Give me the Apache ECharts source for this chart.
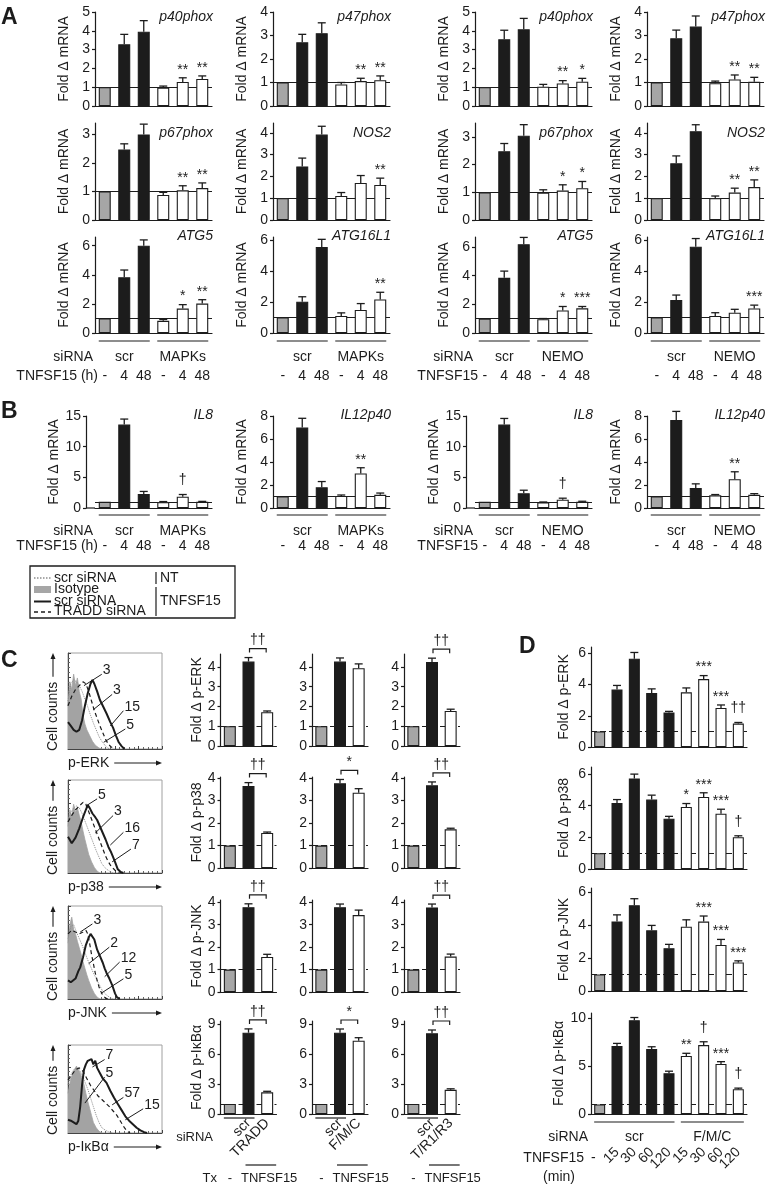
<!DOCTYPE html>
<html><head><meta charset="utf-8">
<script src="https://cdn.jsdelivr.net/npm/echarts/dist/echarts.min.js"></script>
<style>html,body{margin:0;padding:0;background:#fff}#c{width:770px;height:1189px}</style>
</head><body><div id="c"></div>
<script>
// ================= DATA =================
// Panel A / B categories (TNFSF15 hours) and siRNA groups
const abCats = ['-', '4', '48', '-', '4', '48'];
const groupsMAPK = ['scr', 'MAPKs'];
const groupsNEMO = ['scr', 'NEMO'];

// tick label sets
const ticks0to5 = [0, 1, 2, 3, 4, 5];
const ticks0to4 = [0, 1, 2, 3, 4];
const ticks0to3 = [0, 1, 2, 3];
const ticks0to6by2 = [0, 2, 4, 6];
const ticks0to15by5 = [0, 5, 10, 15];
const ticks0to8by2 = [0, 2, 4, 6, 8];
const ticks0to9by3 = [0, 3, 6, 9];
const ticks0to10by5 = [0, 5, 10];

// Panel A, MAPKs siRNA
const p40phoxMAPK = [1, 3.28, 3.95, 0.97, 1.28, 1.44];
const p40phoxMAPKErr = [0, 0.53, 0.59, 0.09, 0.22, 0.16];
const p40phoxMAPKSig = ['', '', '', '', '**', '**'];
const p47phoxMAPK = [1, 2.71, 3.10, 0.92, 1.06, 1.10];
const p47phoxMAPKErr = [0, 0.34, 0.44, 0.08, 0.12, 0.18];
const p47phoxMAPKSig = ['', '', '', '', '**', '**'];
const p67phoxMAPK = [1, 2.47, 3.00, 0.88, 1.04, 1.12];
const p67phoxMAPKErr = [0, 0.20, 0.36, 0.09, 0.16, 0.18];
const p67phoxMAPKSig = ['', '', '', '', '**', '**'];
const nos2MAPK = [1, 2.46, 3.92, 1.10, 1.70, 1.61];
const nos2MAPKErr = [0, 0.38, 0.38, 0.16, 0.34, 0.31];
const nos2MAPKSig = ['', '', '', '', '', '**'];
const atg5MAPK = [1, 3.83, 6.00, 0.84, 1.68, 2.02];
const atg5MAPKErr = [0, 0.50, 0.40, 0.09, 0.27, 0.27];
const atg5MAPKSig = ['', '', '', '', '*', '**'];
const atg16l1MAPK = [1, 2.02, 5.56, 1.10, 1.49, 2.17];
const atg16l1MAPKErr = [0, 0.32, 0.49, 0.20, 0.41, 0.46];
const atg16l1MAPKSig = ['', '', '', '', '', '**'];
// Panel A, NEMO siRNA
const p40phoxNEMO = [1, 3.55, 4.08, 1.03, 1.20, 1.29];
const p40phoxNEMOErr = [0, 0.48, 0.58, 0.12, 0.15, 0.18];
const p40phoxNEMOSig = ['', '', '', '', '**', '*'];
const p47phoxNEMO = [1, 2.88, 3.38, 0.97, 1.13, 1.03];
const p47phoxNEMOErr = [0, 0.35, 0.45, 0.09, 0.19, 0.19];
const p47phoxNEMOSig = ['', '', '', '', '**', '**'];
const p67phoxNEMO = [1, 2.48, 3.04, 0.99, 1.06, 1.15];
const p67phoxNEMOErr = [0, 0.28, 0.40, 0.10, 0.21, 0.24];
const p67phoxNEMOSig = ['', '', '', '', '*', '*'];
const nos2NEMO = [1, 2.60, 4.07, 1.00, 1.26, 1.51];
const nos2NEMOErr = [0, 0.34, 0.30, 0.10, 0.20, 0.33];
const nos2NEMOSig = ['', '', '', '', '**', '**'];
const atg5NEMO = [1, 3.85, 6.20, 0.96, 1.57, 1.72];
const atg5NEMOErr = [0, 0.47, 0.47, 0.05, 0.28, 0.13];
const atg5NEMOSig = ['', '', '', '', '*', '***'];
const atg16l1NEMO = [1, 2.13, 5.57, 1.10, 1.31, 1.59];
const atg16l1NEMOErr = [0, 0.32, 0.53, 0.21, 0.22, 0.21];
const atg16l1NEMOSig = ['', '', '', '', '', '***'];

// Panel B
const il8MAPK = [1, 13.6, 2.3, 0.95, 1.85, 1.0];
const il8MAPKErr = [0, 0.9, 0.4, 0.1, 0.35, 0.08];
const il8MAPKSig = ['', '', '', '', '†', ''];
const il12p40MAPK = [1, 7.0, 1.8, 1.05, 3.0, 1.15];
const il12p40MAPKErr = [0, 0.8, 0.5, 0.08, 0.5, 0.15];
const il12p40MAPKSig = ['', '', '', '', '**', ''];
const il8NEMO = [1, 13.6, 2.4, 0.9, 1.35, 1.0];
const il8NEMOErr = [0, 1.0, 0.5, 0.08, 0.25, 0.1];
const il8NEMOSig = ['', '', '', '', '†', ''];
const il12p40NEMO = [1, 7.65, 1.75, 1.1, 2.5, 1.15];
const il12p40NEMOErr = [0, 0.75, 0.35, 0.07, 0.65, 0.1];
const il12p40NEMOSig = ['', '', '', '', '**', ''];

// Panel C bar charts (categories: isotype, scr, knockdown)
const cCatsTRADD = ['', 'scr', 'TRADD'];
const cCatsFMC = ['', 'scr', 'F/M/C'];
const cCatsTR = ['', 'scr', 'T/R1/R3'];
const cErkTRADD = [1, 4.27, 1.71], cErkTRADDErr = [0, 0.20, 0.06];
const cErkFMC = [1, 4.27, 3.93], cErkFMCErr = [0, 0.18, 0.22];
const cErkTR = [1, 4.24, 1.77], cErkTRErr = [0, 0.20, 0.09];
const cErkSig = ['††', '', '††'];
const cP38TRADD = [1, 3.65, 1.56], cP38TRADDErr = [0, 0.15, 0.04];
const cP38FMC = [1, 3.77, 3.35], cP38FMCErr = [0, 0.17, 0.18];
const cP38TR = [1, 3.68, 1.72], cP38TRErr = [0, 0.15, 0.05];
const cP38Sig = ['††', '*', '††'];
const cJnkTRADD = [1, 3.78, 1.56], cJnkTRADDErr = [0, 0.15, 0.12];
const cJnkFMC = [1, 3.78, 3.43], cJnkFMCErr = [0, 0.14, 0.22];
const cJnkTR = [1, 3.77, 1.58], cJnkTRErr = [0, 0.15, 0.11];
const cJnkSig = ['††', '', '††'];
const cIkbTRADD = [1, 8.13, 2.17], cIkbTRADDErr = [0, 0.38, 0.10];
const cIkbFMC = [1, 8.13, 7.33], cIkbFMCErr = [0, 0.37, 0.30];
const cIkbTR = [1, 8.07, 2.42], cIkbTRErr = [0, 0.33, 0.10];
const cIkbSig = ['††', '*', '††'];

// Panel C histograms: [x %, y %] of frame (hand-read)
const hErkIso = [[0,45],[2,70],[4,62],[6,78],[8,66],[10,74],[12,60],[14,52],[16,35],[18,26],[20,20],[23,14],[26,8],[29,4],[33,1],[36,0]];
const hErkNT = [[0,50],[3,68],[6,72],[9,70],[12,66],[15,60],[18,52],[21,44],[24,35],[27,27],[30,20],[33,13],[36,8],[40,3],[44,0]];
const hErkTRADD = [[0,45],[4,55],[8,62],[12,66],[16,70],[19,68],[22,60],[25,50],[28,40],[31,32],[34,24],[37,17],[40,10],[43,5],[46,2],[50,0]];
const hErkScr = [[0,28],[3,24],[6,20],[9,18],[12,20],[15,30],[18,45],[21,58],[24,68],[26,72],[28,68],[31,60],[34,51],[37,45],[41,37],[45,28],[48,22],[51,14],[54,7],[57,3],[60,0]];
const hErkNotes = [['3',37,82,17,66],['3',48,61,27,41],['15',60,44,45,24],['5',62,25,38,7]];
const hP38Iso = [[0,50],[2,68],[4,60],[6,74],[8,65],[10,70],[12,62],[14,55],[16,45],[18,36],[20,28],[22,20],[25,12],[28,6],[31,2],[34,0]];
const hP38NT = [[0,55],[3,65],[6,70],[9,72],[12,70],[15,64],[18,56],[21,48],[24,40],[27,32],[30,24],[33,17],[36,10],[40,5],[44,2],[48,0]];
const hP38TRADD = [[0,55],[4,62],[8,68],[12,72],[16,76],[19,74],[22,66],[25,58],[28,50],[31,42],[34,34],[37,26],[40,18],[43,12],[46,7],[50,3],[54,0]];
const hP38Scr = [[0,39],[4,32],[8,38],[12,48],[16,60],[19,68],[21,73],[23,70],[26,64],[29,60],[31,57],[34,50],[37,43],[40,36],[43,28],[46,22],[48,17],[50,12],[53,4],[56,1],[59,0]];
const hP38Notes = [['5',32,84,19,72],['3',49,66,29,43],['16',60,48,45,30],['7',68,30,47,12]];
const hJnkIso = [[0,60],[2,80],[4,88],[6,75],[8,70],[10,62],[12,55],[14,48],[16,40],[18,33],[20,26],[22,20],[25,12],[28,6],[31,2],[34,0]];
const hJnkNT = [[0,65],[3,78],[6,80],[9,72],[12,65],[15,58],[18,50],[21,42],[24,35],[27,28],[30,22],[33,16],[36,10],[40,5],[44,2],[48,0]];
const hJnkTRADD = [[0,70],[4,74],[8,72],[12,70],[16,72],[19,74],[21,70],[23,60],[25,48],[27,38],[29,28],[31,20],[33,13],[35,8],[37,4],[40,1],[43,0]];
const hJnkScr = [[0,20],[3,18],[5,16],[8,22],[11,30],[13,34],[16,45],[19,58],[22,66],[24,70],[26,71],[28,64],[31,53],[34,46],[37,39],[39,33],[41,28],[44,22],[47,15],[50,6],[52,2],[55,0]];
const hJnkNotes = [['3',27,85,13,72],['2',45,60,22,38],['12',56,44,39,24],['5',60,26,35,6]];
const hIkbIso = [[0,45],[3,62],[6,70],[9,76],[11,72],[13,68],[15,62],[17,55],[19,45],[21,36],[23,28],[25,20],[27,12],[30,6],[33,2],[36,0]];
const hIkbNT = [[0,55],[3,66],[6,72],[9,74],[12,72],[15,66],[18,58],[21,50],[24,40],[27,30],[30,20],[33,12],[36,6],[40,3],[44,1],[48,0]];
const hIkbTRADD = [[0,60],[4,66],[8,72],[12,74],[16,70],[20,62],[24,54],[28,48],[32,42],[36,38],[40,34],[44,30],[48,25],[52,20],[56,13],[60,6],[63,2],[66,0]];
const hIkbScr = [[0,15],[3,14],[6,12],[9,10],[11,14],[13,30],[15,55],[17,72],[19,78],[21,82],[23,80],[25,84],[27,78],[29,82],[31,74],[34,68],[37,62],[41,57],[45,48],[49,40],[53,33],[57,26],[61,19],[65,14],[69,10],[73,6],[77,3],[81,1],[84,0]];
const hIkbNotes = [['7',40,88,26,75],['5',40,68,18,34],['57',60,45,47,32],['15',81,32,61,15]];

// Panel D (TNFSF15 minutes)
const dCats = ['-', '15', '30', '60', '120', '15', '30', '60', '120'];
const dGroups = ['scr', 'F/M/C'];
const dErk = [1, 3.68, 5.65, 3.46, 2.21, 3.50, 4.35, 2.50, 1.50];
const dErkErr = [0, 0.26, 0.40, 0.26, 0.07, 0.28, 0.22, 0.19, 0.07];
const dErkSig = ['', '', '', '', '', '', '***', '***', '††'];
const dP38 = [1, 4.18, 5.73, 4.39, 3.18, 3.92, 4.56, 3.50, 2.01];
const dP38Err = [0, 0.21, 0.27, 0.28, 0.15, 0.22, 0.26, 0.28, 0.09];
const dP38Sig = ['', '', '', '', '', '*', '***', '***', '†'];
const dJnk = [1, 4.22, 5.20, 3.68, 2.60, 3.90, 4.21, 2.79, 1.73];
const dJnkErr = [0, 0.40, 0.40, 0.30, 0.23, 0.42, 0.34, 0.34, 0.10];
const dJnkSig = ['', '', '', '', '', '', '***', '***', '***'];
const dIkb = [1, 7.06, 9.75, 6.75, 4.24, 6.03, 7.17, 5.20, 2.58];
const dIkbErr = [0, 0.28, 0.28, 0.24, 0.21, 0.28, 0.34, 0.24, 0.11];
const dIkbSig = ['', '', '', '', '', '**', '†', '***', '†'];

// ================= BUILD =================
const INK = '#1c1c1c', GRAY = '#a6a6a6', WHITE = '#ffffff';
const FONT = "'Liberation Sans', Arial, Helvetica, sans-serif";
const grids = [], xAxes = [], yAxes = [], series = [], graphics = [];
const mctx = document.createElement('canvas').getContext('2d');
function tw(s, size) { mctx.font = size + 'px ' + FONT; return mctx.measureText(s).width; }

function txt(x, y, s, o) {
  o = o || {};
  const font = (o.italic ? 'italic ' : '') + (o.bold ? 'bold ' : '') + (o.size || 14) + 'px ' + FONT;
  graphics.push({type: 'text', x: x, y: y, rotation: o.rot || 0, silent: true, z: 20,
    style: {text: s, font: font, fill: INK, align: o.align || 'left', verticalAlign: o.va || 'middle',
            textAlign: o.align || 'left', textVerticalAlign: o.va || 'middle'}});
}
function seg(x1, y1, x2, y2, w, dash, color) {
  graphics.push({type: 'line', silent: true, z: 20, shape: {x1: x1, y1: y1, x2: x2, y2: y2},
    style: {stroke: color || INK, lineWidth: w || 1.2, lineDash: dash || null}});
}
function poly(points, fill) {
  graphics.push({type: 'polygon', silent: true, z: 20, shape: {points: points}, style: {fill: fill || INK}});
}

function catCenter(o, i) { return o.left + o.width / o.cats.length * (i + 0.5); }

function addBarChart(o) {
  const gi = grids.length;
  grids.push({left: o.left, top: o.top, width: o.width, height: o.height});
  xAxes.push({gridIndex: gi, type: 'category', data: o.cats, position: 'bottom',
    axisLine: {show: true, onZero: false, lineStyle: {color: INK, width: 1.2}},
    axisTick: {show: false}, splitLine: {show: false},
    axisLabel: {show: !!o.xLabels, interval: 0, rotate: o.xRotate || 0, margin: o.xMargin || 8,
      fontSize: 14, color: INK, fontFamily: FONT,
      formatter: o.xFormatter || function (v) { return v; }}});
  yAxes.push({gridIndex: gi, type: 'value', min: 0, max: o.max, offset: o.yOffset || 0,
    axisLine: {show: true, onZero: false, lineStyle: {color: INK, width: 1.2}},
    axisTick: {show: true, length: 3, customValues: o.ticks, lineStyle: {color: INK, width: 1.2}},
    axisLabel: {show: true, customValues: o.ticks, margin: 5, fontSize: 14, color: INK, fontFamily: FONT},
    splitLine: {show: false},
    name: o.yName || '', nameLocation: 'middle', nameGap: o.nameGap || 20,
    nameTextStyle: {fontSize: 14, color: INK, fontFamily: FONT}});
  series.push({type: 'bar', xAxisIndex: gi, yAxisIndex: gi, barWidth: o.barWidth, silent: true, z: 3,
    data: o.vals.map(function (v, i) { return {value: v, itemStyle: {color: o.colors[i]}}; }),
    itemStyle: {borderColor: INK, borderWidth: 1.1},
    markLine: {silent: true, symbol: ['none', 'none'], z: 1, label: {show: false},
      lineStyle: {color: INK, width: 1, type: o.refType || 'solid'}, data: [{yAxis: 1}]}});
  series.push({type: 'custom', xAxisIndex: gi, yAxisIndex: gi, z: 4, silent: true,
    data: o.vals.map(function (v, i) { return [i, v, v + o.errs[i]]; }),
    renderItem: function (params, api) {
      const i = params.dataIndex, v = o.vals[i], e = o.errs[i];
      const p0 = api.coord([i, v]), p1 = api.coord([i, v + e]);
      const ch = [];
      if (e > 0) {
        ch.push({type: 'line', shape: {x1: p0[0], y1: p0[1], x2: p1[0], y2: p1[1]}, style: {stroke: INK, lineWidth: 1.3}});
        ch.push({type: 'line', shape: {x1: p1[0] - 4, y1: p1[1], x2: p1[0] + 4, y2: p1[1]}, style: {stroke: INK, lineWidth: 1.3}});
      }
      const s = o.sigs ? o.sigs[i] : '';
      if (s) {
        const dy = s.indexOf('†') >= 0 ? 7 : 1;
        ch.push({type: 'text', style: {text: s, x: p1[0], y: p1[1] - dy, font: '14px ' + FONT, fill: INK,
          align: 'center', verticalAlign: 'bottom', textAlign: 'center', textVerticalAlign: 'bottom'}});
      }
      return {type: 'group', children: ch};
    }});
  if (o.bracket) {
    series.push({type: 'custom', xAxisIndex: gi, yAxisIndex: gi, z: 4, silent: true,
      data: [[1, o.vals[1] + o.errs[1]]],
      renderItem: function (params, api) {
        const a = api.coord([1, o.vals[1] + o.errs[1]]), b = api.coord([2, o.vals[1] + o.errs[1]]);
        const y = a[1] - 9;
        return {type: 'group', children: [
          {type: 'polyline', shape: {points: [[a[0] + 1, y + 4], [a[0] + 1, y], [b[0] - 1, y], [b[0] - 1, y + 4]]}, style: {stroke: INK, lineWidth: 1.2, fill: null}},
          {type: 'text', style: {text: o.bracket, x: (a[0] + b[0]) / 2, y: y - 1, font: '14px ' + FONT, fill: INK,
            align: 'center', verticalAlign: 'bottom', textAlign: 'center', textVerticalAlign: 'bottom'}}]};
      }});
  }
  return gi;
}

function addHist(o) {
  const gi = grids.length;
  grids.push({left: o.left, top: o.top, width: o.width, height: o.height, show: true, borderColor: '#a0a0a0', borderWidth: 1});
  const ax = {gridIndex: gi, type: 'value', min: 0, max: 100, interval: 25,
    axisLine: {show: true, onZero: false, lineStyle: {color: '#444', width: 1}},
    axisTick: {show: true, inside: true, length: 3, lineStyle: {color: '#444'}},
    minorTick: {show: true, splitNumber: 5, length: 2, lineStyle: {color: '#666'}},
    axisLabel: {show: false}, splitLine: {show: false}};
  xAxes.push(Object.assign({}, ax));
  yAxes.push(Object.assign({}, ax));
  const mk = function (d, ls, area, z) {
    return {type: 'line', xAxisIndex: gi, yAxisIndex: gi, data: d, symbol: 'none', silent: true, z: z,
      lineStyle: ls, itemStyle: {color: ls.color}, areaStyle: area};
  };
  series.push(mk(o.iso, {color: '#a3a3a3', width: 0.8}, {color: '#a3a3a3', opacity: 1}, 2));
  series.push(mk(o.nt, {color: '#8c8c8c', width: 1, type: 'dotted'}, undefined, 3));
  series.push(mk(o.tradd, {color: INK, width: 1.2, type: [4, 3]}, undefined, 4));
  series.push(mk(o.scr, {color: INK, width: 2}, undefined, 5));
  series.push({type: 'custom', xAxisIndex: gi, yAxisIndex: gi, z: 6, silent: true,
    data: o.notes.map(function (n) { return [n[1], n[2]]; }),
    renderItem: function (params, api) {
      const n = o.notes[params.dataIndex];
      const t = api.coord([n[1], n[2]]), l = api.coord([n[3], n[4]]);
      return {type: 'group', children: [
        {type: 'line', shape: {x1: t[0] - 1, y1: t[1] + 4, x2: l[0], y2: l[1]}, style: {stroke: INK, lineWidth: 1}},
        {type: 'text', style: {text: n[0], x: t[0], y: t[1], font: '14px ' + FONT, fill: INK,
          align: 'left', verticalAlign: 'middle', textAlign: 'left', textVerticalAlign: 'middle'}}]};
    }});
  // x label with arrow
  const ly = o.top + o.height + 14;
  txt(o.left, ly, o.label);
  const x0 = o.left + tw(o.label, 14) + 5, x1 = o.left + o.width;
  seg(x0, ly, x1 - 5, ly, 1.1);
  poly([[x1 - 6, ly - 2.5], [x1, ly], [x1 - 6, ly + 2.5]]);
  // y label with arrow
  const yb = o.top + o.height + 2, cx = o.left - 15;
  txt(cx, yb, 'Cell counts', {rot: Math.PI / 2, align: 'left', va: 'middle'});
  const yt = yb - tw('Cell counts', 14) - 5;
  seg(cx, yt, cx, o.top + 4, 1.1);
  poly([[cx - 2.5, o.top + 6], [cx, o.top], [cx + 2.5, o.top + 6]]);
  return gi;
}

// ---------- Panel A ----------
const A_LEFT = [95, 273, 475, 647], A_W = 117;
const A_ROWS = [[12, 106], [123, 220], [237, 333]];
const A_TITLE_Y = [17, 133, 236];
const abColors = [GRAY, INK, INK, WHITE, WHITE, WHITE];
const aPanel = [
  [{g: 'p40phox', v: p40phoxMAPK, e: p40phoxMAPKErr, s: p40phoxMAPKSig, max: 5, t: ticks0to5},
   {g: 'p47phox', v: p47phoxMAPK, e: p47phoxMAPKErr, s: p47phoxMAPKSig, max: 4, t: ticks0to4},
   {g: 'p40phox', v: p40phoxNEMO, e: p40phoxNEMOErr, s: p40phoxNEMOSig, max: 5, t: ticks0to5},
   {g: 'p47phox', v: p47phoxNEMO, e: p47phoxNEMOErr, s: p47phoxNEMOSig, max: 4, t: ticks0to4}],
  [{g: 'p67phox', v: p67phoxMAPK, e: p67phoxMAPKErr, s: p67phoxMAPKSig, max: 3.4, t: ticks0to3},
   {g: 'NOS2', v: nos2MAPK, e: nos2MAPKErr, s: nos2MAPKSig, max: 4.45, t: ticks0to4},
   {g: 'p67phox', v: p67phoxNEMO, e: p67phoxNEMOErr, s: p67phoxNEMOSig, max: 3.5, t: ticks0to3},
   {g: 'NOS2', v: nos2NEMO, e: nos2NEMOErr, s: nos2NEMOSig, max: 4.45, t: ticks0to4}],
  [{g: 'ATG5', v: atg5MAPK, e: atg5MAPKErr, s: atg5MAPKSig, max: 6.6, t: ticks0to6by2},
   {g: 'ATG16L1', v: atg16l1MAPK, e: atg16l1MAPKErr, s: atg16l1MAPKSig, max: 6.2, t: ticks0to6by2},
   {g: 'ATG5', v: atg5NEMO, e: atg5NEMOErr, s: atg5NEMOSig, max: 6.7, t: ticks0to6by2},
   {g: 'ATG16L1', v: atg16l1NEMO, e: atg16l1NEMOErr, s: atg16l1NEMOSig, max: 6.2, t: ticks0to6by2}]
];
function groupRows(o, c, lineY, grpY, rowY) {
  const bw = o.barWidth / 2;
  const groups = (c < 2) ? groupsMAPK : groupsNEMO;
  [[0, 2], [3, 5]].forEach(function (r, k) {
    const xa = catCenter(o, r[0]) - bw, xb = catCenter(o, r[1]) + bw;
    seg(xa, lineY, xb, lineY, 1.2);
    txt((xa + xb) / 2, grpY, groups[k], {align: 'center'});
  });
  if (c === 0 || c === 2) {
    txt(o.left - 2, grpY, 'siRNA', {align: 'right'});
    txt(o.left + 3, rowY, c === 0 ? 'TNFSF15 (h)' : 'TNFSF15', {align: 'right'});
  }
}
aPanel.forEach(function (row, r) {
  row.forEach(function (d, c) {
    const o = {left: A_LEFT[c], top: A_ROWS[r][0], width: A_W, height: A_ROWS[r][1] - A_ROWS[r][0],
      cats: abCats, vals: d.v, errs: d.e, sigs: d.s, max: d.max, ticks: d.t, colors: abColors, barWidth: 12,
      yName: 'Fold Δ mRNA', nameGap: 24, xLabels: r === 2, xMargin: 36, refType: 'solid'};
    addBarChart(o);
    txt(A_LEFT[c] + A_W + 1, A_TITLE_Y[r], d.g, {align: 'right', italic: true});
    if (r === 2) groupRows(o, c, 341, 357, 376);
  });
});

// ---------- Panel B ----------
const B_ROW = [416, 508];
const bPanel = [
  {g: 'IL8', v: il8MAPK, e: il8MAPKErr, s: il8MAPKSig, max: 15, t: ticks0to15by5},
  {g: 'IL12p40', v: il12p40MAPK, e: il12p40MAPKErr, s: il12p40MAPKSig, max: 8, t: ticks0to8by2},
  {g: 'IL8', v: il8NEMO, e: il8NEMOErr, s: il8NEMOSig, max: 15, t: ticks0to15by5},
  {g: 'IL12p40', v: il12p40NEMO, e: il12p40NEMOErr, s: il12p40NEMOSig, max: 8, t: ticks0to8by2}
];
bPanel.forEach(function (d, c) {
  const off = (c % 2 === 0) ? 9 : 0;
  const o = {left: A_LEFT[c], top: B_ROW[0], width: A_W, height: B_ROW[1] - B_ROW[0],
    cats: abCats, vals: d.v, errs: d.e, sigs: d.s, max: d.max, ticks: d.t, colors: abColors, barWidth: 12,
    yName: 'Fold Δ mRNA', nameGap: off ? 19 : 24, yOffset: off, xLabels: true, xMargin: 31, refType: 'solid'};
  addBarChart(o);
  if (off) seg(A_LEFT[c] - off, B_ROW[1], A_LEFT[c], B_ROW[1], 1.2);
  txt(A_LEFT[c] + A_W + 1, 415, d.g, {align: 'right', italic: true});
  groupRows(o, c, 515, 531, 546);
});

// ---------- Legend ----------
graphics.push({type: 'rect', silent: true, z: 20, shape: {x: 30, y: 566, width: 205, height: 52}, style: {fill: null, stroke: INK, lineWidth: 1.3}});
seg(34, 578, 51, 578, 1.2, [1.5, 1.5], '#555');
txt(54, 578, 'scr siRNA');
graphics.push({type: 'rect', silent: true, z: 20, shape: {x: 34, y: 586, width: 17, height: 7}, style: {fill: GRAY}});
txt(54, 589.5, 'Isotype');
seg(34, 601.5, 51, 601.5, 2);
txt(54, 601, 'scr siRNA');
seg(34, 612, 51, 612, 1.3, [4, 3]);
txt(54, 611.5, 'TRADD siRNA');
seg(156, 572, 156, 584, 1.2);
seg(156, 587, 156, 616, 1.2);
txt(160, 578, 'NT');
txt(160, 601, 'TNFSF15');

// ---------- Panel C ----------
const C_ROWS = [[654, 746], [777, 868], [900, 992], [1021, 1114]];
const C_HIST = [[653, 749], [780, 873], [906, 999], [1045, 1133]];
const C_LEFT = [220.5, 312, 404], C_W = 56;
const cNames = ['Fold Δ p-ERK', 'Fold Δ p-p38', 'Fold Δ p-JNK', 'Fold Δ p-IκBα'];
const cMax = [4.65, 4.05, 4.1, 9.3];
const cTicks = [ticks0to4, ticks0to4, ticks0to4, ticks0to9by3];
const cRowsData = [
  [[cErkTRADD, cErkTRADDErr], [cErkFMC, cErkFMCErr], [cErkTR, cErkTRErr], cErkSig],
  [[cP38TRADD, cP38TRADDErr], [cP38FMC, cP38FMCErr], [cP38TR, cP38TRErr], cP38Sig],
  [[cJnkTRADD, cJnkTRADDErr], [cJnkFMC, cJnkFMCErr], [cJnkTR, cJnkTRErr], cJnkSig],
  [[cIkbTRADD, cIkbTRADDErr], [cIkbFMC, cIkbFMCErr], [cIkbTR, cIkbTRErr], cIkbSig]
];
const cCats = [cCatsTRADD, cCatsFMC, cCatsTR];
const cColors = [GRAY, INK, WHITE];
const hists = [
  {label: 'p-ERK', iso: hErkIso, nt: hErkNT, tradd: hErkTRADD, scr: hErkScr, notes: hErkNotes},
  {label: 'p-p38', iso: hP38Iso, nt: hP38NT, tradd: hP38TRADD, scr: hP38Scr, notes: hP38Notes},
  {label: 'p-JNK', iso: hJnkIso, nt: hJnkNT, tradd: hJnkTRADD, scr: hJnkScr, notes: hJnkNotes},
  {label: 'p-IκBα', iso: hIkbIso, nt: hIkbNT, tradd: hIkbTRADD, scr: hIkbScr, notes: hIkbNotes}
];
hists.forEach(function (h, r) {
  addHist(Object.assign({left: 68, top: C_HIST[r][0], width: 94, height: C_HIST[r][1] - C_HIST[r][0]}, h));
});
cRowsData.forEach(function (row, r) {
  for (let c = 0; c < 3; c++) {
    const o = {left: C_LEFT[c], top: C_ROWS[r][0], width: C_W, height: C_ROWS[r][1] - C_ROWS[r][0],
      cats: cCats[c], vals: row[c][0], errs: row[c][1], sigs: null, bracket: row[3][c],
      max: cMax[r], ticks: cTicks[r], colors: cColors, barWidth: 12,
      yName: c === 0 ? cNames[r] : '', nameGap: 16, xLabels: r === 3, xRotate: 45, xMargin: 7, refType: [6, 3]};
    addBarChart(o);
    if (r === 3) {
      const bw = 6;
      seg(catCenter(o, 0) - bw, 1118, catCenter(o, 1) + bw, 1118, 1.2);
      seg(catCenter(o, 1) - 3, 1165, catCenter(o, 2) + bw + 3, 1165, 1.2);
      txt(catCenter(o, 0), 1178, '-', {align: 'center', size: 13});
      txt(catCenter(o, 2) + 2, 1178, 'TNFSF15', {align: 'center', size: 13});
      if (c === 0) {
        txt(213, 1137, 'siRNA', {align: 'right', size: 13});
        txt(217, 1178, 'Tx', {align: 'right', size: 13});
      }
    }
  }
});

// ---------- Panel D ----------
const D_LEFT = 591, D_W = 156;
const D_ROWS = [[647, 747], [767, 869], [888, 991], [1013, 1114]];
const dNames = ['Fold Δ p-ERK', 'Fold Δ p-p38', 'Fold Δ p-JNK', 'Fold Δ p-IκBα'];
const dMax = [6.4, 6.45, 6.25, 10.5];
const dTicks = [ticks0to6by2, ticks0to6by2, ticks0to6by2, ticks0to10by5];
const dRows = [[dErk, dErkErr, dErkSig], [dP38, dP38Err, dP38Sig], [dJnk, dJnkErr, dJnkSig], [dIkb, dIkbErr, dIkbSig]];
const dColors = [GRAY, INK, INK, INK, INK, WHITE, WHITE, WHITE, WHITE];
dRows.forEach(function (d, r) {
  const o = {left: D_LEFT, top: D_ROWS[r][0], width: D_W, height: D_ROWS[r][1] - D_ROWS[r][0],
    cats: dCats, vals: d[0], errs: d[1], sigs: d[2], max: dMax[r], ticks: dTicks[r], colors: dColors, barWidth: 11,
    yName: dNames[r], nameGap: 20, xLabels: r === 3, xRotate: 45, xMargin: 36, refType: [6, 3],
    xFormatter: function (v, i) { return i === 0 ? '' : v; }};
  const gi = addBarChart(o);
  if (r === 3) {
    // un-rotated "-" for the untreated category
    xAxes.push({gridIndex: gi, type: 'category', data: dCats, position: 'bottom',
      axisLine: {show: false}, axisTick: {show: false}, splitLine: {show: false},
      axisLabel: {interval: 0, margin: 37, fontSize: 14, color: INK, fontFamily: FONT, align: 'right', padding: [0, 4, 0, 0],
        formatter: function (v, i) { return i === 0 ? v : ''; }}});
    const bw = 5.5;
    [[0, 4], [5, 8]].forEach(function (g, k) {
      const xa = catCenter(o, g[0]) - bw, xb = catCenter(o, g[1]) + bw;
      seg(xa, 1122, xb, 1122, 1.2);
      txt((xa + xb) / 2, 1137, dGroups[k], {align: 'center'});
    });
    txt(588, 1137, 'siRNA', {align: 'right'});
    txt(584, 1158, 'TNFSF15', {align: 'right'});
    txt(559, 1177, '(min)', {align: 'center'});
  }
});

// ---------- Panel letters ----------
txt(1, 18, 'A', {bold: true, size: 23});
txt(1, 412, 'B', {bold: true, size: 23});
txt(1, 661, 'C', {bold: true, size: 23});
txt(519, 647, 'D', {bold: true, size: 23});

const chart = echarts.init(document.getElementById('c'), null, {renderer: 'canvas'});
chart.setOption({
  animation: false,
  backgroundColor: '#ffffff',
  textStyle: {fontFamily: FONT},
  grid: grids, xAxis: xAxes, yAxis: yAxes, series: series, graphic: graphics
});
</script></body></html>
